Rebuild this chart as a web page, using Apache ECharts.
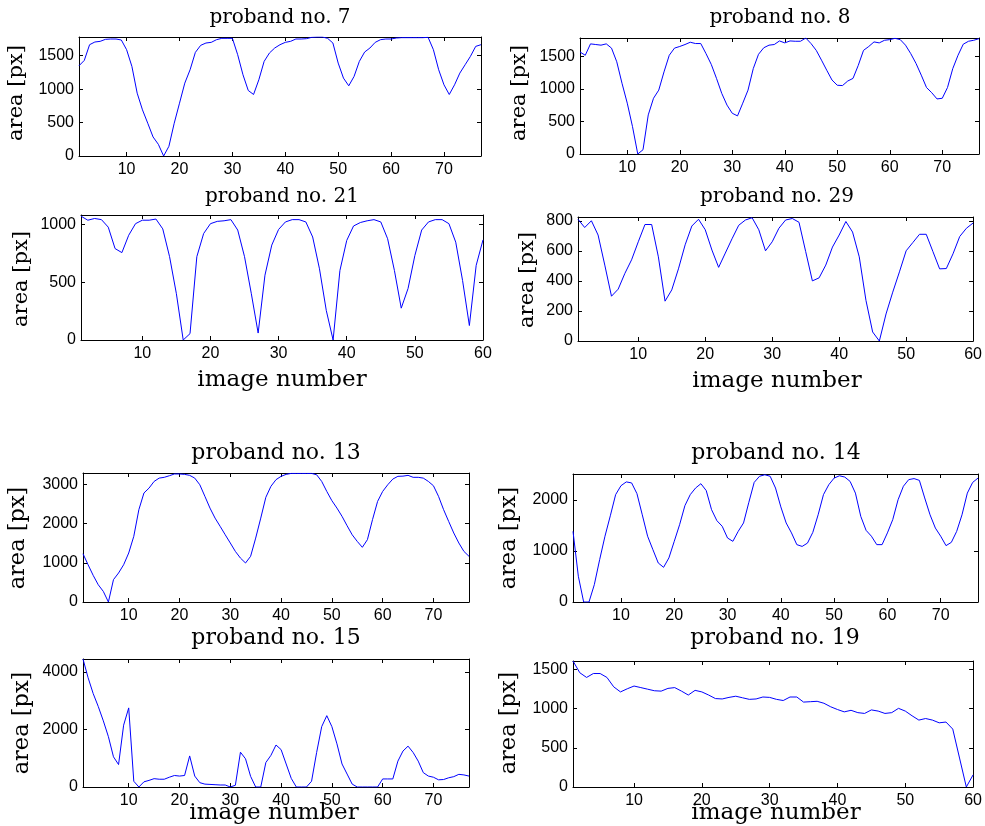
<!DOCTYPE html>
<html><head><meta charset="utf-8">
<script src="https://cdn.jsdelivr.net/npm/echarts@6/dist/echarts.min.js"></script>
<style>html,body{margin:0;padding:0;background:#fff}#c{width:985px;height:826px}</style>
</head><body><div id="c"></div>
<script>
// ---- data ----
const titles = ['proband no. 7','proband no. 8','proband no. 21','proband no. 29','proband no. 13','proband no. 14','proband no. 15','proband no. 19'];
const p7 = [1350,1430,1665,1705,1715,1745,1750,1750,1735,1590,
1340,940,690,490,285,175,0,145,490,790,
1090,1290,1550,1655,1690,1700,1740,1760,1760,1760,
1515,1215,980,920,1140,1415,1540,1615,1665,1700,
1715,1750,1750,1755,1775,1780,1780,1760,1690,1390,
1165,1050,1190,1415,1555,1615,1700,1740,1750,1750,
1765,1770,1770,1770,1770,1770,1775,1590,1290,1065,
920,1065,1240,1365,1490,1640,1665];
const p8 = [1565,1515,1690,1680,1670,1690,1625,1415,1085,780,
420,0,65,600,855,980,1260,1515,1625,1650,
1680,1715,1695,1695,1540,1375,1160,930,750,625,
585,780,980,1310,1530,1630,1670,1680,1735,1705,
1735,1730,1730,1780,1695,1590,1440,1285,1135,1055,
1050,1120,1160,1360,1590,1650,1720,1705,1745,1755,
1775,1755,1670,1540,1390,1210,1020,940,845,855,
1020,1310,1515,1685,1730,1745,1770];
const p21 = [1070,1035,1050,1040,975,790,755,905,1005,1035,
1035,1045,960,720,400,0,55,720,920,1005,
1025,1030,1040,950,720,400,60,560,820,955,
1020,1040,1040,1020,890,615,255,0,600,860,
985,1015,1030,1040,1020,875,600,275,445,730,
950,1020,1040,1040,1005,845,515,125,645,865];
const p29 = [810,755,800,705,505,298,345,450,540,660,
775,775,560,265,340,480,640,765,810,740,
605,490,585,680,770,805,820,740,600,660,
750,805,815,790,595,400,420,505,625,705,
795,725,560,270,60,0,180,325,460,600,
655,710,710,595,480,482,580,695,750,785];
const p13 = [1230,950,680,440,270,0,570,740,950,1250,
1675,2355,2780,2905,3075,3160,3180,3220,3265,3265,
3255,3230,3160,2990,2695,2395,2140,1930,1715,1505,
1290,1120,995,1165,1630,2140,2670,2950,3120,3205,
3255,3280,3280,3280,3280,3280,3245,3075,2820,2585,
2395,2185,1945,1715,1545,1395,1590,2100,2565,2820,
2990,3135,3205,3210,3230,3180,3180,3160,3075,2965,
2695,2355,2055,1760,1505,1290,1165];
const p14 = [1385,505,0,0,340,830,1290,1690,2105,2280,
2355,2335,2125,1710,1290,1025,765,680,865,1190,
1515,1890,2105,2235,2320,2185,1810,1595,1485,1255,
1190,1385,1550,1955,2345,2465,2495,2465,2235,1865,
1550,1355,1125,1090,1155,1365,1710,2105,2300,2430,
2475,2450,2365,2135,1680,1405,1290,1125,1125,1355,
1615,2005,2270,2400,2420,2385,2040,1710,1450,1290,
1105,1170,1385,1710,2135,2345,2430];
const p15 = [4450,3800,3250,2800,2300,1750,1050,780,2150,2750,
200,0,180,230,290,270,270,340,400,380,
400,1080,380,150,100,90,80,70,70,0,
60,1210,980,370,0,0,850,1100,1460,1300,
800,300,0,0,0,200,1200,2100,2480,2100,
1500,800,450,100,0,0,0,0,0,280,
280,280,900,1250,1420,1200,900,500,380,340,
250,260,320,360,440,420,380];
const p19 = [1610,1460,1400,1450,1450,1400,1280,1215,1255,1290,
1270,1250,1230,1225,1260,1270,1225,1175,1235,1215,
1175,1130,1125,1145,1160,1140,1120,1125,1150,1145,
1120,1105,1150,1150,1085,1090,1095,1070,1025,990,
960,980,950,940,985,970,940,950,1005,970,
910,855,875,855,820,830,740,370,0,155];
const seriesValues = [p7,p8,p21,p29,p13,p14,p15,p19];
const xTicks77 = [10,20,30,40,50,60,70];
const xTicks60 = [10,20,30,40,50,60];
const yTicks = [[0,500,1000,1500],[0,500,1000,1500],[0,500,1000],[0,200,400,600,800],
                [0,1000,2000,3000],[0,1000,2000],[0,2000,4000],[0,500,1000,1500]];
const yMax = [1780,1780,1080,825,3290,2510,4450,1610];
const xMax = [77,77,60,60,77,77,77,60];
const yLabel = 'area [px]';
const xLabel = 'image number';

// ---- layout ----
const grids = [
  {left:79, top:37, width:402, height:119},
  {left:580, top:38, width:399, height:116},
  {left:81, top:215, width:402, height:125},
  {left:578, top:217, width:396, height:124},
  {left:83, top:473, width:386, height:129},
  {left:573, top:474, width:405, height:128},
  {left:83, top:659, width:386, height:128},
  {left:573, top:661, width:404, height:126}
];
const titlePos = [[280,18,20],[780,18,20],[282,197,20],[777,197,20],[276,453,22],[776,453,22],[276,638,22],[775,638,22]];
const yLabPos = [[17,93,21],[520,93,21],[22,279,21],[528,280,21],[18,538,22.5],[509,538,22.5],[22,723,22.5],[509,723,22.5]];
const xLabPos = [[282,380],[777,381],[274,813],[776,813]];

const SERIF = '"DejaVu Serif", serif';
const SANS = '"Liberation Sans", Arial, sans-serif';
const lineStyleAxis = {color:'#000', width:1};
const plain = v => String(v);

const option = {animation:false, backgroundColor:'#fff', grid:[], xAxis:[], yAxis:[], series:[], graphic:[]};

seriesValues.forEach((vals, k) => {
  option.grid.push(Object.assign({containLabel:false}, grids[k]));
  const xt = xMax[k] === 77 ? xTicks77 : xTicks60;
  const baseX = {type:'value', gridIndex:k, min:1, max:xMax[k], splitLine:{show:false},
    axisLine:{show:true, onZero:false, lineStyle:lineStyleAxis}};
  const baseY = {type:'value', gridIndex:k, min:0, max:yMax[k], splitLine:{show:false},
    axisLine:{show:true, onZero:false, lineStyle:lineStyleAxis}};
  option.xAxis.push(Object.assign({}, baseX, {position:'bottom',
    axisTick:{show:true, inside:true, length:4, lineStyle:lineStyleAxis, customValues:xt},
    axisLabel:{show:true, customValues:xt, formatter:plain, color:'#000', fontFamily:SANS, fontSize:16, margin:6}}));
  option.xAxis.push(Object.assign({}, baseX, {position:'top',
    axisTick:{show:true, inside:true, length:4, lineStyle:lineStyleAxis, customValues:xt},
    axisLabel:{show:false, customValues:xt}}));
  option.yAxis.push(Object.assign({}, baseY, {position:'left',
    axisTick:{show:true, inside:true, length:4, lineStyle:lineStyleAxis, customValues:yTicks[k]},
    axisLabel:{show:true, customValues:yTicks[k], formatter:plain, color:'#000', fontFamily:SANS, fontSize:16, margin:5}}));
  option.yAxis.push(Object.assign({}, baseY, {position:'right',
    axisTick:{show:true, inside:true, length:4, lineStyle:lineStyleAxis, customValues:yTicks[k]},
    axisLabel:{show:false, customValues:yTicks[k]}}));
  option.series.push({type:'line', xAxisIndex:2*k, yAxisIndex:2*k, showSymbol:false, symbol:'none',
    lineStyle:{color:'#0000ff', width:1}, data: vals.map((v,i)=>[i+1, v]), clip:true});

  const tp = titlePos[k];
  option.graphic.push({type:'text', x:tp[0], y:tp[1], style:{text:titles[k], font:tp[2]+'px '+SERIF,
    align:'center', verticalAlign:'middle', textAlign:'center', textVerticalAlign:'middle', fill:'#000'}});
  const yp = yLabPos[k];
  option.graphic.push({type:'text', x:yp[0], y:yp[1], rotation:Math.PI/2, style:{text:yLabel, font:yp[2]+'px '+SERIF,
    align:'center', verticalAlign:'middle', textAlign:'center', textVerticalAlign:'middle', fill:'#000'}});
});
xLabPos.forEach(p => {
  option.graphic.push({type:'text', x:p[0], y:p[1], z:100, style:{text:xLabel, font:'23px '+SERIF,
    align:'center', verticalAlign:'middle', textAlign:'center', textVerticalAlign:'middle', fill:'#000'}});
});

const chart = echarts.init(document.getElementById('c'), null, {renderer:'canvas'});
chart.setOption(option);
</script></body></html>
